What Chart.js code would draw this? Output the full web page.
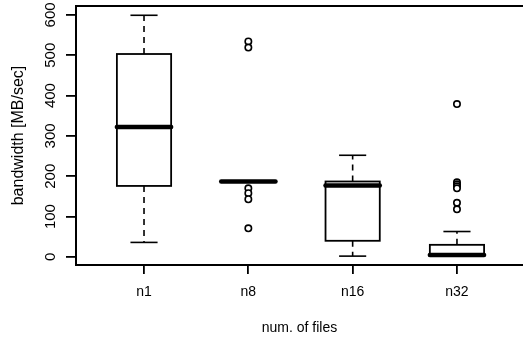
<!DOCTYPE html>
<html>
<head>
<meta charset="utf-8">
<script src="https://cdn.jsdelivr.net/npm/chart.js@4.4.1/dist/chart.umd.min.js"></script>
<style>
  html, body { margin: 0; padding: 0; background: #fff; }
  #wrap { width: 523px; height: 339px; }
</style>
</head>
<body>
<div id="wrap"><canvas id="chart" width="523" height="339"></canvas></div>
<script>
const categories = ['n1', 'n8', 'n16', 'n32'];
const q1 = [176, 187, 40, 5];
const median = [322, 187, 177, 5];
const q3 = [503, 187, 187, 30];
const whiskerLow = [36, 187, 2, 5];
const whiskerHigh = [599, 187, 252, 63];
const outliers = [
  [],
  [534, 519, 170, 158, 143, 71],
  [],
  [379, 185, 180, 175, 170, 134, 118]
];
const yTicks = [0, 100, 200, 300, 400, 500, 600];

const boxHalf = 0.26;
const capHalf = 0.13;

const outlierPoints = [];
outliers.forEach((list, i) => {
  list.forEach(v => outlierPoints.push({ x: i + 1, y: v }));
});

const fontFamily = '"Liberation Sans", Arial, Helvetica, sans-serif';

const boxPlugin = {
  id: 'boxes',
  beforeDatasetsDraw(chart) {
    const { ctx, scales: { x, y } } = chart;
    ctx.save();
    ctx.strokeStyle = '#000';
    categories.forEach((c, i) => {
      const cx = x.getPixelForValue(i + 1);
      const half = x.getPixelForValue(i + 1 + boxHalf) - cx;
      const cap = x.getPixelForValue(i + 1 + capHalf) - cx;
      const yq1 = y.getPixelForValue(q1[i]);
      const yq3 = y.getPixelForValue(q3[i]);
      const ylo = y.getPixelForValue(whiskerLow[i]);
      const yhi = y.getPixelForValue(whiskerHigh[i]);

      // whiskers
      ctx.lineWidth = 1.6;
      ctx.setLineDash([6, 5]);
      if (whiskerHigh[i] > q3[i]) {
        ctx.beginPath(); ctx.moveTo(cx, yq3); ctx.lineTo(cx, yhi); ctx.stroke();
      }
      if (whiskerLow[i] < q1[i]) {
        ctx.beginPath(); ctx.moveTo(cx, yq1); ctx.lineTo(cx, ylo); ctx.stroke();
      }
      ctx.setLineDash([]);
      if (whiskerHigh[i] > q3[i]) {
        ctx.beginPath(); ctx.moveTo(cx - cap, yhi); ctx.lineTo(cx + cap, yhi); ctx.stroke();
      }
      if (whiskerLow[i] < q1[i]) {
        ctx.beginPath(); ctx.moveTo(cx - cap, ylo); ctx.lineTo(cx + cap, ylo); ctx.stroke();
      }

      // box
      if (q3[i] > q1[i]) {
        ctx.lineWidth = 1.8;
        ctx.strokeRect(cx - half, yq3, half * 2, yq1 - yq3);
      }

      // median
      const ym = y.getPixelForValue(median[i]);
      ctx.lineWidth = 4.5;
      ctx.lineCap = 'round';
      ctx.beginPath(); ctx.moveTo(cx - half, ym); ctx.lineTo(cx + half, ym); ctx.stroke();
      ctx.lineCap = 'butt';
    });
    ctx.restore();
  },
  afterDraw(chart) {
    const { ctx, chartArea } = chart;
    ctx.save();
    ctx.strokeStyle = '#000';
    ctx.lineWidth = 2;
    ctx.beginPath();
    ctx.moveTo(chartArea.left, chartArea.top);
    ctx.lineTo(chartArea.right, chartArea.top);
    ctx.stroke();
    ctx.restore();
  }
};

new Chart(document.getElementById('chart'), {
  type: 'scatter',
  data: {
    datasets: [{
      data: outlierPoints,
      pointRadius: 3.2,
      pointHoverRadius: 3.2,
      borderWidth: 1.6,
      borderColor: '#000',
      backgroundColor: '#fff'
    }]
  },
  options: {
    responsive: false,
    animation: false,
    layout: { autoPadding: false, padding: { top: 6, right: 0, bottom: 0, left: 0 } },
    plugins: {
      legend: { display: false },
      tooltip: { enabled: false }
    },
    scales: {
      x: {
        type: 'linear',
        min: 0.348,
        max: 4.633,
        afterBuildTicks: s => { s.ticks = [1, 2, 3, 4].map(v => ({ value: v })); },
        afterFit: s => { s.height = 74; s.paddingLeft = 0; s.paddingRight = 0; },
        ticks: {
          callback: v => categories[v - 1],
          color: '#000',
          font: { family: fontFamily, size: 14 },
          padding: 10,
          maxRotation: 0,
          autoSkip: false
        },
        grid: { drawOnChartArea: false, tickLength: 9, color: '#000', lineWidth: 1.8 },
        border: { display: true, color: '#000', width: 2 },
        title: {
          display: true,
          text: 'num. of files',
          color: '#000',
          font: { family: fontFamily, size: 14 },
          padding: { top: 0, bottom: 2 }
        }
      },
      y: {
        min: -20,
        max: 622,
        afterBuildTicks: s => { s.ticks = yTicks.map(v => ({ value: v })); },
        afterFit: s => { s.width = 76; s.paddingTop = 0; s.paddingBottom = 0; },
        ticks: {
          color: '#000',
          font: { family: fontFamily, size: 15 },
          minRotation: 90,
          maxRotation: 90,
          crossAlign: 'center',
          padding: 3,
          autoSkip: false
        },
        grid: { drawOnChartArea: false, tickLength: 10, color: '#000', lineWidth: 1.8 },
        border: { display: true, color: '#000', width: 2 },
        title: {
          display: true,
          text: 'bandwidth [MB/sec]',
          color: '#000',
          font: { family: fontFamily, size: 16 },
          padding: { top: 9, bottom: 0 }
        }
      }
    }
  },
  plugins: [boxPlugin]
});
</script>
</body>
</html>
